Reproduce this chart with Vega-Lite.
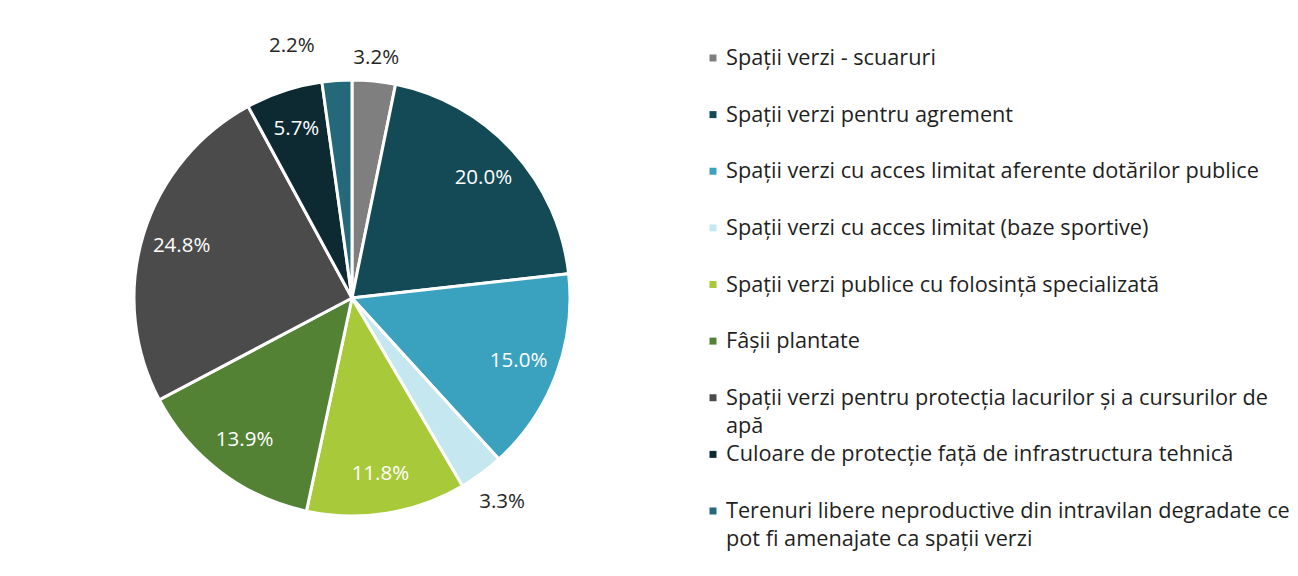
{
  "$schema": "https://vega.github.io/schema/vega-lite/v6.json",
  "padding": {"left": 0, "top": 20, "right": 0, "bottom": 0},
  "background": "white",
  "spacing": 0,
  "config": {"view": {"stroke": null}, "font": "Open Sans"},
  "datasets": {
    "slices": [
      {"order": 1, "category": "Spații verzi - scuaruri", "legendText": "Spații verzi - scuaruri", "value": 3.2, "label": "3.2%", "pos": "outA"},
      {"order": 2, "category": "Spații verzi pentru agrement", "legendText": "Spații verzi pentru agrement", "value": 20.0, "label": "20.0%", "pos": "in"},
      {"order": 3, "category": "Spații verzi cu acces limitat aferente dotărilor publice", "legendText": "Spații verzi cu acces limitat aferente dotărilor publice", "value": 15.0, "label": "15.0%", "pos": "in"},
      {"order": 4, "category": "Spații verzi cu acces limitat (baze sportive)", "legendText": "Spații verzi cu acces limitat (baze sportive)", "value": 3.3, "label": "3.3%", "pos": "outB"},
      {"order": 5, "category": "Spații verzi publice cu folosință specializată", "legendText": "Spații verzi publice cu folosință specializată", "value": 11.8, "label": "11.8%", "pos": "in"},
      {"order": 6, "category": "Fâșii plantate", "legendText": "Fâșii plantate", "value": 13.9, "label": "13.9%", "pos": "in"},
      {"order": 7, "category": "Spații verzi pentru protecția lacurilor și a cursurilor de apă", "legendText": "Spații verzi pentru protecția lacurilor și a cursurilor de|apă", "value": 24.8, "label": "24.8%", "pos": "in"},
      {"order": 8, "category": "Culoare de protecție față de infrastructura tehnică", "legendText": "Culoare de protecție față de infrastructura tehnică", "value": 5.7, "label": "5.7%", "pos": "in"},
      {"order": 9, "category": "Terenuri libere neproductive din intravilan degradate ce pot fi amenajate ca spații verzi", "legendText": "Terenuri libere neproductive din intravilan degradate ce|pot fi amenajate ca spații verzi", "value": 2.2, "label": "2.2%", "pos": "outC"}
    ]
  },
  "hconcat": [
    {
      "width": 704,
      "height": 556,
      "data": {"name": "slices"},
      "encoding": {
        "theta": {"field": "value", "type": "quantitative", "stack": true},
        "order": {"field": "order", "type": "quantitative"}
      },
      "layer": [
        {
          "mark": {"type": "arc", "outerRadius": 218, "stroke": "white", "strokeWidth": 3},
          "encoding": {
            "color": {
              "field": "category", "type": "nominal", "legend": null,
              "scale": {
                "domain": [
                  "Spații verzi - scuaruri",
                  "Spații verzi pentru agrement",
                  "Spații verzi cu acces limitat aferente dotărilor publice",
                  "Spații verzi cu acces limitat (baze sportive)",
                  "Spații verzi publice cu folosință specializată",
                  "Fâșii plantate",
                  "Spații verzi pentru protecția lacurilor și a cursurilor de apă",
                  "Culoare de protecție față de infrastructura tehnică",
                  "Terenuri libere neproductive din intravilan degradate ce pot fi amenajate ca spații verzi"
                ],
                "range": ["#7f7f7f", "#144a56", "#3aa1bf", "#c4e7f0", "#a8c93a", "#548235", "#4b4b4b", "#0d2a33", "#24687a"]
              }
            }
          }
        },
        {
          "mark": {"type": "text", "radius": 178, "fill": "white", "fontSize": 20.5, "baseline": "middle", "align": "center"},
          "encoding": {"text": {"condition": {"test": "datum.pos === 'in'", "field": "label"}, "value": ""}}
        },
        {
          "mark": {"type": "text", "radius": 241, "fill": "#262626", "fontSize": 20.5, "baseline": "middle", "align": "center"},
          "encoding": {"text": {"condition": {"test": "datum.pos === 'outA'", "field": "label"}, "value": ""}}
        },
        {
          "mark": {"type": "text", "radius": 253, "fill": "#262626", "fontSize": 20.5, "baseline": "middle", "align": "center"},
          "encoding": {"text": {"condition": {"test": "datum.pos === 'outB'", "field": "label"}, "value": ""}}
        },
        {
          "mark": {"type": "text", "radius": 248, "dx": -43, "dy": -5, "fill": "#262626", "fontSize": 20.5, "baseline": "middle", "align": "center"},
          "encoding": {"text": {"condition": {"test": "datum.pos === 'outC'", "field": "label"}, "value": ""}}
        }
      ]
    },
    {
      "width": 590,
      "height": 529,
      "data": {"name": "slices"},
      "encoding": {
        "y": {"field": "category", "type": "nominal", "sort": {"field": "order"}, "axis": null, "scale": {"type": "point", "padding": 0.671}}
      },
      "layer": [
        {
          "mark": {"type": "square", "x": 9, "size": 49, "opacity": 1},
          "encoding": {
            "color": {"field": "category", "type": "nominal", "legend": null}
          }
        },
        {
          "mark": {"type": "text", "x": 22, "align": "left", "baseline": "middle", "fontSize": 21.7, "fill": "#1f1f1f", "lineBreak": "|", "lineHeight": 28},
          "encoding": {"text": {"field": "legendText"}}
        }
      ]
    }
  ],
  "resolve": {"scale": {"color": "shared"}}
}
